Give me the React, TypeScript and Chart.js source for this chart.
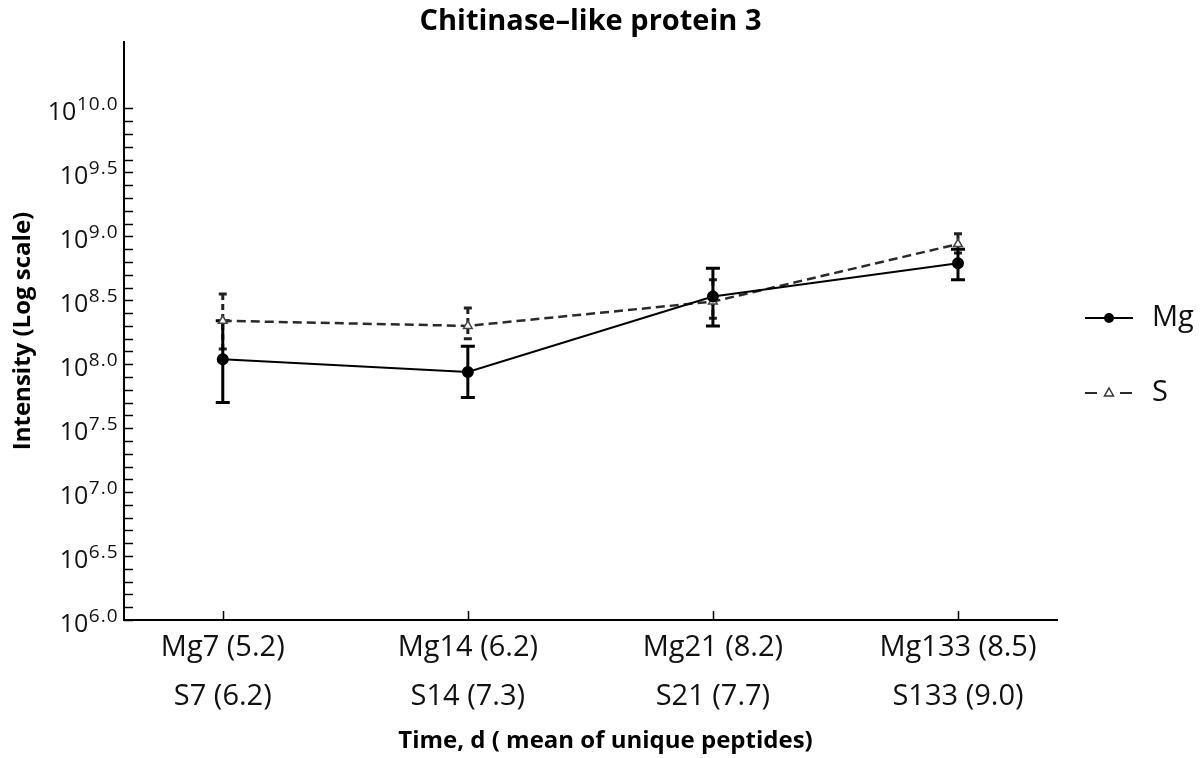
import React, { useEffect, useRef } from 'react';
import { Chart, registerables } from 'chart.js';

Chart.register(...registerables);

const FONT = '"Open Sans", "DejaVu Sans", sans-serif';

const titleText = 'Chitinase\u2013like protein 3';
const xTitle = 'Time, d ( mean of unique peptides)';
const yTitle = 'Intensity (Log scale)';

const categoryLabels: string[][] = [
  ['Mg7 (5.2)', 'S7 (6.2)'],
  ['Mg14 (6.2)', 'S14 (7.3)'],
  ['Mg21 (8.2)', 'S21 (7.7)'],
  ['Mg133 (8.5)', 'S133 (9.0)'],
];
const xPositions = [1, 2, 3, 4];

// log10 intensity values
const mgLog10 = [8.04, 7.94, 8.53, 8.79];
const mgUpper = [8.34, 8.14, 8.75, 8.9];
const mgLower = [7.7, 7.74, 8.3, 8.66];

const sLog10 = [8.34, 8.3, 8.49, 8.94];
const sUpper = [8.55, 8.44, 8.66, 9.02];
const sLower = [8.12, 8.2, 8.36, 8.87];

const yMajorExponents = ['6.0', '6.5', '7.0', '7.5', '8.0', '8.5', '9.0', '9.5', '10.0'];
const yMinorStep = 0.1;
const legendNames = ['Mg', 'S'];

const errorSets = [
  { lower: sLower, upper: sUpper, color: '#222', dash: [6, 4], cap: 4, width: 3 },
  { lower: mgLower, upper: mgUpper, color: '#000', dash: [] as number[], cap: 7, width: 3 },
];

const decorPlugin = {
  id: 'decor',
  beforeDatasetsDraw(chart: any) {
    const { ctx } = chart;
    const xs = chart.scales.x;
    const ys = chart.scales.y;
    ctx.save();
    errorSets.forEach((e) => {
      ctx.strokeStyle = e.color;
      ctx.lineWidth = e.width;
      xPositions.forEach((xv, i) => {
        const px = xs.getPixelForValue(xv);
        const pTop = ys.getPixelForValue(e.upper[i]);
        const pBot = ys.getPixelForValue(e.lower[i]);
        ctx.setLineDash(e.dash);
        ctx.beginPath();
        ctx.moveTo(px, pTop);
        ctx.lineTo(px, pBot);
        ctx.stroke();
        ctx.setLineDash([]);
        ctx.beginPath();
        ctx.moveTo(px - e.cap, pTop);
        ctx.lineTo(px + e.cap, pTop);
        ctx.moveTo(px - e.cap, pBot);
        ctx.lineTo(px + e.cap, pBot);
        ctx.stroke();
      });
    });
    ctx.restore();
  },
  afterDraw(chart: any) {
    const { ctx, chartArea: ca } = chart;
    const xs = chart.scales.x;
    const ys = chart.scales.y;
    ctx.save();
    // inward ticks
    ctx.strokeStyle = '#000';
    ctx.lineWidth = 1.5;
    ctx.beginPath();
    ys.ticks.forEach((t: any) => {
      const py = Math.round(ys.getPixelForValue(t.value)) + 0.5;
      ctx.moveTo(ca.left, py);
      ctx.lineTo(ca.left + 9, py);
    });
    xs.ticks.forEach((t: any) => {
      const px = Math.round(xs.getPixelForValue(t.value)) + 0.5;
      ctx.moveTo(px, ca.bottom);
      ctx.lineTo(px, ca.bottom - 9);
    });
    ctx.stroke();

    // y tick labels 10^x
    ctx.fillStyle = '#111';
    ctx.textAlign = 'left';
    ctx.textBaseline = 'alphabetic';
    yMajorExponents.forEach((lab) => {
      const py = ys.getPixelForValue(parseFloat(lab));
      (ctx as any).letterSpacing = '1px';
      ctx.font = `19px ${FONT}`;
      const supW = ctx.measureText(lab).width;
      (ctx as any).letterSpacing = '0px';
      ctx.font = `25px ${FONT}`;
      const baseW = ctx.measureText('10').width;
      const x0 = ca.left - 6 - supW - baseW;
      ctx.fillText('10', x0, py + 12);
      (ctx as any).letterSpacing = '1px';
      ctx.font = `19px ${FONT}`;
      ctx.fillText(lab, x0 + baseW + 0.5, py + 1.5);
      (ctx as any).letterSpacing = '0px';
    });

    // x axis title
    ctx.fillStyle = '#000';
    ctx.font = `bold 24px ${FONT}`;
    ctx.textAlign = 'center';
    ctx.textBaseline = 'middle';
    ctx.fillText(xTitle, (ca.left + ca.right) / 2 + 15, ca.bottom + 121);

    // legend
    const lx0 = ca.right + 28;
    const lx1 = ca.right + 76;
    const lxm = (lx0 + lx1) / 2;
    const tx = ca.right + 95;
    const rows = [ca.top + 276, ca.top + 351];
    ctx.font = `29px ${FONT}`;
    ctx.textAlign = 'left';
    ctx.textBaseline = 'middle';
    legendNames.forEach((name, i) => {
      const ds = chart.data.datasets[i];
      const y = rows[i];
      ctx.strokeStyle = ds.borderColor;
      ctx.lineWidth = 2;
      ctx.setLineDash(i === 0 ? [] : [12, 23]);
      ctx.beginPath();
      ctx.moveTo(lx0, y);
      ctx.lineTo(lx1, y);
      ctx.stroke();
      ctx.setLineDash([]);
      ctx.beginPath();
      if (i === 0) {
        ctx.fillStyle = '#000';
        ctx.arc(lxm, y, 5, 0, Math.PI * 2);
        ctx.fill();
      } else {
        ctx.fillStyle = '#fff';
        ctx.strokeStyle = '#333';
        ctx.lineWidth = 1.5;
        ctx.moveTo(lxm, y - 5);
        ctx.lineTo(lxm + 4.5, y + 3);
        ctx.lineTo(lxm - 4.5, y + 3);
        ctx.closePath();
        ctx.fill();
        ctx.stroke();
      }
      ctx.fillStyle = '#111';
      ctx.fillText(name, tx, y);
    });
    ctx.restore();
  },
};

export default function App() {
  const ref = useRef<HTMLCanvasElement>(null);
  useEffect(() => {
    document.body.style.margin = '0';
    const chart = new Chart(ref.current as HTMLCanvasElement, {
      type: 'line',
      data: {
        datasets: [
          {
            label: legendNames[0],
            data: xPositions.map((x, i) => ({ x, y: mgLog10[i] })),
            borderColor: '#000',
            backgroundColor: '#000',
            borderWidth: 2,
            pointStyle: 'circle',
            pointRadius: 5,
            pointBackgroundColor: '#000',
            pointBorderColor: '#000',
            tension: 0,
          },
          {
            label: legendNames[1],
            data: xPositions.map((x, i) => ({ x, y: sLog10[i] })),
            borderColor: '#2a2a2a',
            backgroundColor: '#fff',
            borderWidth: 2.5,
            borderDash: [9, 5],
            pointStyle: 'triangle',
            pointRadius: 5,
            pointBackgroundColor: '#fff',
            pointBorderColor: '#444',
            pointBorderWidth: 1.5,
            tension: 0,
          },
        ],
      },
      options: {
        responsive: false,
        animation: false,
        layout: { padding: { left: 0, right: 147, top: 0, bottom: 0 } },
        plugins: {
          legend: { display: false },
          tooltip: { enabled: false },
          title: {
            display: true,
            text: titleText,
            fullSize: false,
            color: '#000',
            font: { family: FONT, size: 29, weight: 'bold', lineHeight: 1.2 },
            padding: { top: 4, bottom: 3.2 },
          },
        },
        scales: {
          x: {
            type: 'linear',
            min: 0.597,
            max: 4.404,
            afterBuildTicks: (s: any) => {
              s.ticks = xPositions.map((v) => ({ value: v }));
            },
            afterFit: (s: any) => {
              s.height = 138;
            },
            grid: { display: false, drawTicks: false },
            border: { display: true, color: '#000', width: 2 },
            ticks: {
              padding: 3.5,
              color: '#111',
              maxRotation: 0,
              autoSkip: false,
              font: { family: FONT, size: 29, lineHeight: 49 / 29 },
              callback: (v: any) => {
                const idx = xPositions.indexOf(Number(v));
                return idx >= 0 ? categoryLabels[idx] : '';
              },
            },
            title: { display: false, text: xTitle },
          },
          y: {
            type: 'linear',
            min: 6,
            max: 10.52,
            afterBuildTicks: (s: any) => {
              const lo = parseFloat(yMajorExponents[0]);
              const hi = parseFloat(yMajorExponents[yMajorExponents.length - 1]);
              const n = Math.round((hi - lo) / yMinorStep);
              const t: any[] = [];
              for (let k = 0; k <= n; k++) t.push({ value: lo + k * yMinorStep });
              s.ticks = t;
            },
            afterFit: (s: any) => {
              s.width = 124;
            },
            grid: { display: false, drawTicks: false },
            border: { display: true, color: '#000', width: 2 },
            ticks: { display: false },
            title: {
              display: true,
              text: yTitle,
              color: '#000',
              font: { family: FONT, size: 24, weight: 'bold', lineHeight: 1.2 },
              padding: { top: 9, bottom: 0 },
            },
          },
        },
      },
      plugins: [decorPlugin],
    } as any);
    return () => chart.destroy();
  }, []);
  return (
    <div style={{ width: 1204, height: 758 }}>
      <canvas ref={ref} width={1204} height={758} style={{ display: 'block' }} />
    </div>
  );
}
